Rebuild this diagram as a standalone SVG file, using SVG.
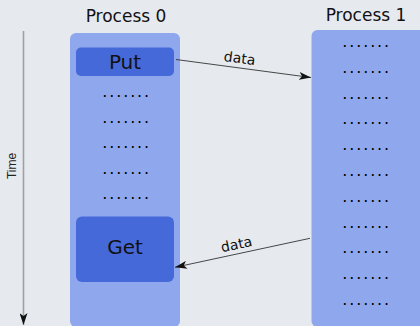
<svg xmlns="http://www.w3.org/2000/svg" width="420" height="326" viewBox="0 0 420 326">
  <style>
    .col { fill: #8fa7ec; }
    .box { fill: #4669d9; }
    .title { font-family: "DejaVu Sans", sans-serif; font-size: 17px; fill: #111; text-anchor: middle; }
    .op { font-family: "DejaVu Sans", sans-serif; font-size: 20px; fill: #111; text-anchor: middle; }
    .dots { font-family: "DejaVu Sans", sans-serif; font-size: 16px; letter-spacing: 1.9px; fill: #000; }
    .lbl { font-family: "DejaVu Sans", sans-serif; font-size: 14px; fill: #111; text-anchor: middle; }
    .msg { stroke: #333; stroke-width: 0.9; fill: none; marker-end: url(#head); }
  </style>
  <defs>
    <marker id="head" viewBox="0 0 12 8" refX="12" refY="4" markerWidth="12" markerHeight="8" markerUnits="userSpaceOnUse" orient="auto">
      <path d="M0,0 L12,4 L0,8 L3,4 Z" fill="#111"/>
    </marker>
    <marker id="timehead" viewBox="0 0 8 12" refX="4" refY="12" markerWidth="8" markerHeight="12" markerUnits="userSpaceOnUse" orient="0">
      <path d="M0,0 L4,12 L8,0 L4,3 Z" fill="#111"/>
    </marker>
  </defs>

  <rect width="420" height="326" fill="#e6eaef"/>

  <!-- time axis -->
  <g id="time-axis">
    <line x1="23.5" y1="31" x2="23.5" y2="325" stroke="#a0a0a0" stroke-width="1.6" marker-end="url(#timehead)"/>
    <text x="0" y="0" transform="translate(16,166) rotate(-90)" font-family="Liberation Sans, sans-serif" font-size="12" fill="#222" text-anchor="middle">Time</text>
  </g>

  <!-- process 0 lane -->
  <g id="process0">
    <text class="title" x="126" y="22">Process 0</text>
    <rect class="col" x="70" y="33" width="110" height="294" rx="6"/>
    <g id="put">
      <rect class="box" x="76" y="47.5" width="98" height="28.5" rx="5"/>
      <text class="op" x="125" y="68.5">Put</text>
    </g>
    <text class="dots" x="102.2" y="97">.......</text>
    <text class="dots" x="102.2" y="122.5">.......</text>
    <text class="dots" x="102.2" y="148">.......</text>
    <text class="dots" x="102.2" y="173.5">.......</text>
    <text class="dots" x="102.2" y="199">.......</text>
    <g id="get">
      <rect class="box" x="76" y="216.5" width="98" height="65.5" rx="6"/>
      <text class="op" x="125" y="254">Get</text>
    </g>
  </g>

  <!-- process 1 lane -->
  <g id="process1">
    <text class="title" x="366" y="21">Process 1</text>
    <rect class="col" x="311.5" y="30" width="116" height="297" rx="6"/>
    <text class="dots" x="342.2" y="46.9">.......</text>
    <text class="dots" x="342.2" y="72.7">.......</text>
    <text class="dots" x="342.2" y="98.5">.......</text>
    <text class="dots" x="342.2" y="124.3">.......</text>
    <text class="dots" x="342.2" y="150.1">.......</text>
    <text class="dots" x="342.2" y="175.9">.......</text>
    <text class="dots" x="342.2" y="201.7">.......</text>
    <text class="dots" x="342.2" y="227.5">.......</text>
    <text class="dots" x="342.2" y="253.3">.......</text>
    <text class="dots" x="342.2" y="279.1">.......</text>
    <text class="dots" x="342.2" y="304.9">.......</text>
  </g>

  <!-- messages -->
  <g id="connectors">
    <line class="msg" x1="176" y1="59.5" x2="311" y2="77.5"/>
    <text class="lbl" transform="translate(239,63) rotate(7.6)">data</text>
    <line class="msg" x1="310" y1="238.3" x2="175" y2="267.3"/>
    <text class="lbl" transform="translate(237.5,249) rotate(-12.1)">data</text>
  </g>
</svg>
